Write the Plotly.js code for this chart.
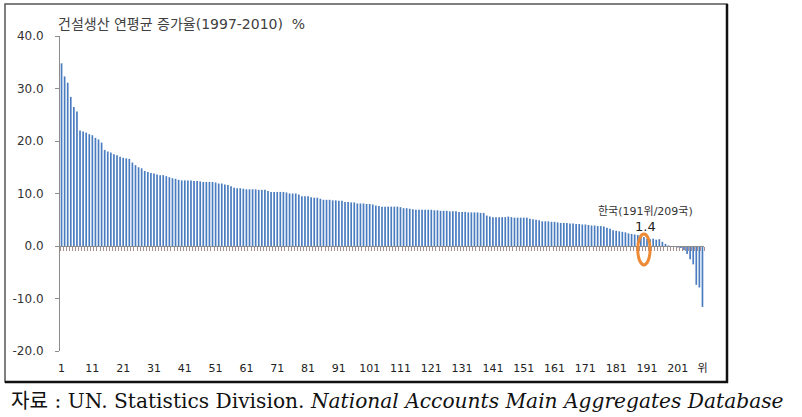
<!DOCTYPE html>
<html><head><meta charset="utf-8">
<script src="https://cdn.plot.ly/plotly-3.0.1.min.js"></script>
<style>html,body{margin:0;padding:0;background:#fff;}#chart{width:802px;height:417px;}</style>
</head><body><div id="chart"></div>
<script>
// 건설생산 연평균 증가율 (1997-2010), 209 countries ranked
const growthRates = [
  34.8, 32.3, 31.1, 28.4, 26.5, 25.6, 22.0, 21.8, 21.6, 21.3,
  21.1, 20.6, 20.3, 19.7, 18.3, 18.0, 17.8, 17.5, 17.3, 17.0,
  16.8, 16.7, 16.6, 15.9, 15.4, 15.0,
  14.8, 14.3, 14.1, 13.9, 13.8, 13.6, 13.5, 13.5, 13.3, 13.1,
  12.9, 12.8, 12.6, 12.5, 12.5, 12.5, 12.5, 12.4, 12.4, 12.3,
  12.2, 12.2, 12.2, 12.2, 12.1, 11.9, 11.9, 11.7, 11.6, 11.4,
  11.1, 11.0, 11.0, 10.9, 10.8, 10.8, 10.8, 10.8, 10.7, 10.7,
  10.7, 10.5, 10.3, 10.3, 10.3, 10.3,
  10.3, 10.2, 10.0, 10.0, 10.0, 9.8, 9.5, 9.5, 9.5, 9.3,
  9.2, 9.2, 9.0, 8.8, 8.8, 8.8, 8.7, 8.7, 8.6, 8.6,
  8.4, 8.4, 8.3, 8.3, 8.1, 8.1, 8.1, 8.0, 8.0, 7.9,
  7.7, 7.6, 7.5, 7.5, 7.5, 7.5, 7.5, 7.5, 7.4, 7.2,
  7.2, 7.1, 7.0, 6.9, 6.9, 6.9,
  6.9, 6.9, 6.9, 6.8, 6.8, 6.7, 6.7, 6.7, 6.6, 6.6,
  6.6, 6.5, 6.5, 6.5, 6.4, 6.4, 6.4, 6.4, 6.3, 6.3,
  5.8, 5.6, 5.5, 5.5, 5.5, 5.5, 5.5, 5.6, 5.5, 5.4,
  5.4, 5.4, 5.4, 5.4, 5.2, 5.1, 5.0, 4.9, 4.7, 4.7,
  4.7, 4.6, 4.6, 4.5, 4.4, 4.4,
  4.4, 4.3, 4.3, 4.2, 4.2, 4.1, 4.1, 4.0, 3.9, 3.9,
  3.8, 3.8, 3.7, 3.5, 3.3, 3.0, 2.9, 2.8, 2.7, 2.6,
  2.4, 2.3, 2.2, 2.1, 1.9, 1.7, 1.4, 1.3, 1.4, 1.2,
  1.3, 0.8, 0.4, 0.1, -0.1, -0.2, -0.3, -0.4, -0.8, -1.5,
  -2.5, -3.5, -7.4, -7.9, -11.6
];
const tickPositions = [1, 11, 21, 31, 41, 51, 61, 71, 81, 91, 101, 111, 121, 131, 141, 151, 161, 171, 181, 191, 201, 209];
const tickLabels = ['1', '11', '21', '31', '41', '51', '61', '71', '81', '91', '101', '111', '121', '131', '141', '151', '161', '171', '181', '191', '201', '위'];
const yTickValues = [-20, -10, 0, 10, 20, 30, 40];
const yTickLabels = ['-20.0', '-10.0', '0.0', '10.0', '20.0', '30.0', '40.0'];
const koreaRank = 191;
const totalCountries = 209;
const koreaLabel = '한국(' + koreaRank + '위/' + totalCountries + '국)';
const titleText = '건설생산 연평균 증가율(1997-2010)  %';
const sourceText = '자료 : UN. Statistics Division. <i>National Accounts Main Aggregates Database</i>';

const ranks = growthRates.map((_, i) => i + 1);

const W = 802, H = 417, M = {l: 60, r: 98, t: 36, b: 66};
const PW = W - M.l - M.r, PH = H - M.t - M.b;
const px = x => (x - M.l) / PW;
const py = y => (H - M.b - y) / PH;

const tickFont = {family: 'DejaVu Sans, Noto Sans CJK KR, sans-serif', size: 12, color: '#333333'};

const trace = {
  type: 'bar', x: ranks, y: growthRates,
  marker: {color: '#4a7cc0', line: {width: 0}},
  hoverinfo: 'x+y', showlegend: false
};

const layout = {
  width: W, height: H, margin: M,
  paper_bgcolor: '#ffffff', plot_bgcolor: '#ffffff',
  bargap: 0.45,
  showlegend: false,
  xaxis: {
    range: [0.5, totalCountries + 0.5],
    anchor: 'free', position: 1 / 3,
    showline: true, linecolor: '#8c8c8c', linewidth: 1,
    showgrid: false, zeroline: false,
    tickmode: 'array', tickvals: tickPositions, ticktext: tickLabels,
    ticks: '', ticklabelstandoff: 112,
    tickfont: {family: 'DejaVu Sans, Noto Sans CJK KR, sans-serif', size: 11, color: '#222222'},
    minor: {tickmode: 'linear', tick0: 0.5, dtick: 1, ticks: 'outside', ticklen: 4, tickcolor: '#a89090', tickwidth: 1, showgrid: false}
  },
  yaxis: {
    range: [-20, 40],
    tickmode: 'array', tickvals: yTickValues, ticktext: yTickLabels,
    ticks: 'outside', ticklen: 4, tickcolor: '#8c8c8c',
    showline: true, linecolor: '#8c8c8c', linewidth: 1,
    showgrid: false, zeroline: false,
    ticklabelstandoff: 9,
    tickfont: tickFont
  },
  shapes: [
    {type: 'rect', xref: 'paper', yref: 'paper', x0: px(5), x1: px(727), y0: py(382), y1: py(4),
     line: {color: '#555555', width: 1.5}, fillcolor: 'rgba(0,0,0,0)', layer: 'below'},
    {type: 'line', xref: 'paper', yref: 'paper', x0: px(727), x1: px(727), y0: py(383), y1: py(4),
     line: {color: '#111111', width: 2.5}},
    {type: 'line', xref: 'paper', yref: 'paper', x0: px(5), x1: px(728), y0: py(382), y1: py(382),
     line: {color: '#111111', width: 2.5}},
    {type: 'circle', xref: 'x', yref: 'y', x0: koreaRank - 3, x1: koreaRank + 1, y0: -3.6, y1: 2.3,
     line: {color: '#ec8a35', width: 3}}
  ],
  annotations: [
    {text: titleText, xref: 'paper', yref: 'paper', x: px(56), y: py(24), xanchor: 'left', yanchor: 'middle',
     showarrow: false, font: {family: 'DejaVu Sans, Noto Sans CJK KR, sans-serif', size: 14, color: '#404040'}},
    {text: koreaLabel, xref: 'x', yref: 'y', x: koreaRank - 0.5, y: growthRates[koreaRank - 1], yshift: 27,
     xanchor: 'center', yanchor: 'middle', showarrow: false,
     font: {family: 'DejaVu Sans, Noto Sans CJK KR, sans-serif', size: 11, color: '#333333'}},
    {text: growthRates[koreaRank - 1].toFixed(1), xref: 'x', yref: 'y', x: koreaRank - 0.5, y: growthRates[koreaRank - 1], yshift: 12,
     xanchor: 'center', yanchor: 'middle', showarrow: false,
     font: {family: 'DejaVu Sans, sans-serif', size: 13, color: '#222222'}},
    {text: sourceText, xref: 'paper', yref: 'paper', x: px(9), y: py(401), xanchor: 'left', yanchor: 'middle',
     showarrow: false, font: {family: 'DejaVu Serif, Noto Sans CJK KR, serif', size: 20.2, color: '#111111'}}
  ]
};

Plotly.newPlot('chart', [trace], layout, {displayModeBar: false, staticPlot: true});
</script>
</body></html>
